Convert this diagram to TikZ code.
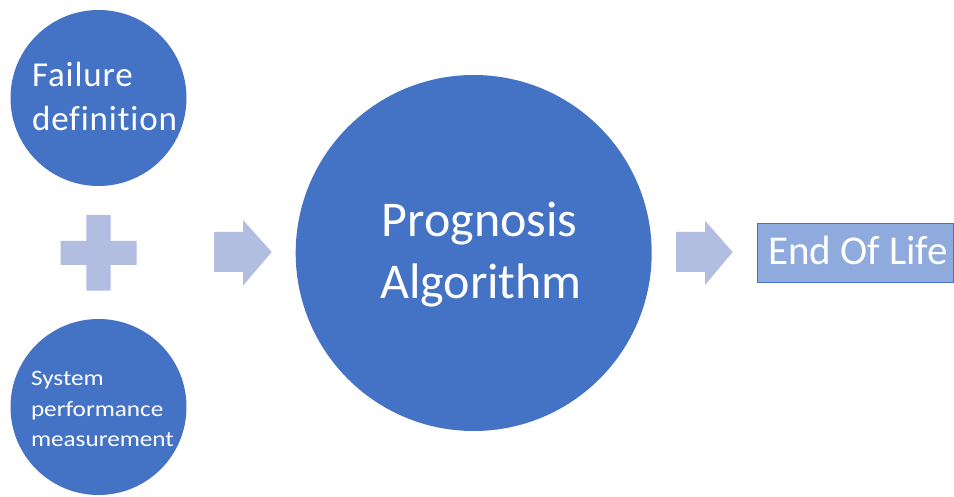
\documentclass[tikz,border=0pt]{standalone}
\usepackage{fontspec}
\setmainfont{Carlito}[Ligatures=CommonOff]
\definecolor{circ}{HTML}{4472C4}
\definecolor{lightblue}{HTML}{B1BEE1}
\definecolor{boxfill}{HTML}{8FAADC}
\begin{document}
\begin{tikzpicture}[x=1pt,y=-1pt,
  dot/.style={circle,fill=circ,inner sep=0pt,outer sep=0pt},
  txt/.style={text=white,inner sep=0pt,outer sep=0pt},
  shapefill/.style={fill=lightblue},
  bigtxt/.style={txt,font=\fontsize{35}{42}\selectfont\addfontfeatures{LetterSpace=2.5},anchor=base west},
  smalltxt/.style={txt,font=\fontsize{22}{26}\selectfont,anchor=base west}]
\useasboundingbox (0,0) rectangle (954,497);
% circles
\node[dot,minimum size=176pt] (fail) at (98.5,98) {};
\node[dot,minimum size=176pt] (sys) at (98.5,407) {};
\node[dot,minimum size=356pt] (prog) at (473.7,253) {};
% plus sign
\fill[shapefill] (60.7,241) -- (86.3,241) -- (86.3,215) -- (110.7,215) -- (110.7,241)
  -- (136.7,241) -- (136.7,265) -- (110.7,265) -- (110.7,290.7) -- (86.3,290.7)
  -- (86.3,265) -- (60.7,265) -- cycle;
% arrows
\fill[shapefill] (214,232) -- (243,232) -- (243,220) -- (271.7,252) -- (243,285.7)
  -- (243,272) -- (214,272) -- cycle;
\fill[shapefill] (676,232) -- (705,232) -- (705,220.7) -- (732.7,252) -- (705,285)
  -- (705,272) -- (676,272) -- cycle;
% end of life box
\node[draw=circ,line width=1pt,fill=boxfill,minimum width=196pt,minimum height=59pt,
  inner sep=0pt] (eol) at (855,252.7) {};
% texts
\node[bigtxt] (t1) at (32,87) {Failure};
\node[bigtxt] (t2) at (32,131) {definition};
\node[smalltxt] (s1) at (31,385) {\scalebox{1.145}[1]{System}};
\node[smalltxt] (s2) at (31,416) {\scalebox{1.145}[1]{performance}};
\node[smalltxt] (s3) at (31,446) {\scalebox{1.145}[1]{measurement}};
\node[txt,font=\fontsize{50}{60}\selectfont,anchor=base] (p1) at (479.5,236.7) {Prognosis};
\node[txt,font=\fontsize{50}{60}\selectfont,anchor=base] (p2) at (481,298.3) {Algorithm};
\node[txt,font=\fontsize{41}{48}\selectfont,anchor=base west] (e1) at (768,265) {End Of Life};
\end{tikzpicture}
\end{document}
